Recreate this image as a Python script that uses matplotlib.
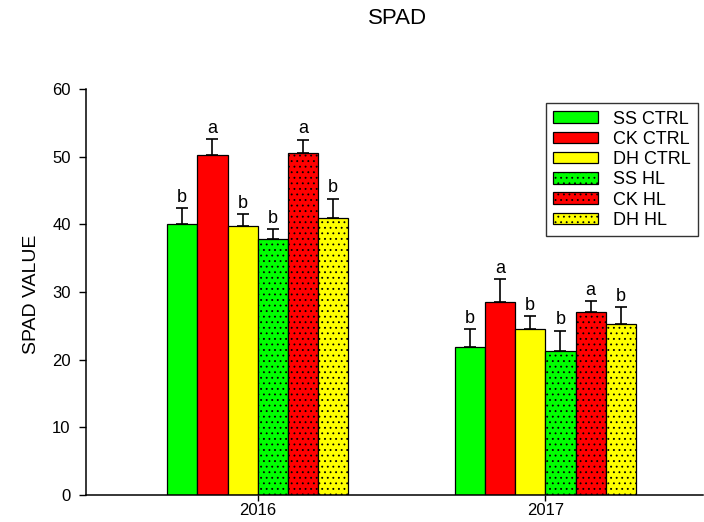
import matplotlib
matplotlib.use("Agg")
import matplotlib.pyplot as plt
import numpy as np

plt.rcParams['font.family'] = ['Liberation Sans', 'DejaVu Sans']
plt.rcParams['hatch.linewidth'] = 0.6

years = ['2016', '2017']
series = ['SS CTRL', 'CK CTRL', 'DH CTRL', 'SS HL', 'CK HL', 'DH HL']
colors = ['#00ff00', '#ff0000', '#ffff00', '#00ff00', '#ff0000', '#ffff00']
hatches = [None, None, None, '...', '...', '...']

means_2016 = [40.0, 50.2, 39.7, 37.9, 50.5, 40.9]
means_2017 = [21.8, 28.5, 24.5, 21.3, 27.0, 25.2]
err_2016 = [2.4, 2.4, 1.8, 1.4, 2.0, 2.9]
err_2017 = [2.7, 3.4, 1.9, 3.0, 1.6, 2.6]
letters_2016 = ['b', 'a', 'b', 'b', 'a', 'b']
letters_2017 = ['b', 'a', 'b', 'b', 'a', 'b']

means = np.array([means_2016, means_2017])
errs = np.array([err_2016, err_2017])
letters = [letters_2016, letters_2017]

W, H = 704, 522
fig = plt.figure(figsize=(W / 100, H / 100), dpi=100)
ax = fig.add_axes([86 / W, 1 - 495 / H, (703 - 86) / W, (495 - 89) / H])

x = np.arange(len(years))
width = 0.105
offsets = (np.arange(len(series)) - (len(series) - 1) / 2) * width

for i, name in enumerate(series):
    xs = x + offsets[i]
    ax.bar(xs, means[:, i], width, color=colors[i], edgecolor='black',
           linewidth=0.9, hatch=hatches[i], label=name, zorder=2)
    ax.errorbar(xs, means[:, i], yerr=[np.zeros(len(years)), errs[:, i]],
                fmt='none', ecolor='black', elinewidth=1.2, capsize=4.3,
                capthick=1.2, zorder=1)
    for j in range(len(years)):
        ax.text(xs[j], means[j, i] + errs[j, i] + 0.35, letters[j][i],
                ha='center', va='bottom', fontsize=13)

ax.set_ylim(0, 60)
ax.set_xlim(-0.597, 1.548)
ax.set_yticks(np.arange(0, 61, 10))
ax.set_xticks(x)
ax.set_xticklabels(years)
ax.tick_params(axis='y', direction='out', length=5, width=1, labelsize=12, pad=6)
ax.tick_params(axis='x', direction='out', length=4, width=1, labelsize=12, pad=2)
for s in ['top', 'right']:
    ax.spines[s].set_visible(False)
for s in ['left', 'bottom']:
    ax.spines[s].set_linewidth(1.1)

fig.text(32 / W, 1 - 294 / H, 'SPAD VALUE', rotation=90, ha='center',
         va='center', fontsize=14)
fig.text(398 / W, 1 - 18 / H, 'SPAD', ha='center', va='center', fontsize=16)

leg = ax.legend(loc='upper right', bbox_to_anchor=(698 / W, 1 - 103 / H),
                bbox_transform=fig.transFigure, fontsize=13, frameon=True,
                fancybox=False, edgecolor='black', handlelength=2.5,
                handleheight=0.6, labelspacing=0.18, borderpad=0.42,
                handletextpad=0.8, borderaxespad=0)
leg.get_frame().set_linewidth(1.0)

fig.savefig('out.png', dpi=100)
